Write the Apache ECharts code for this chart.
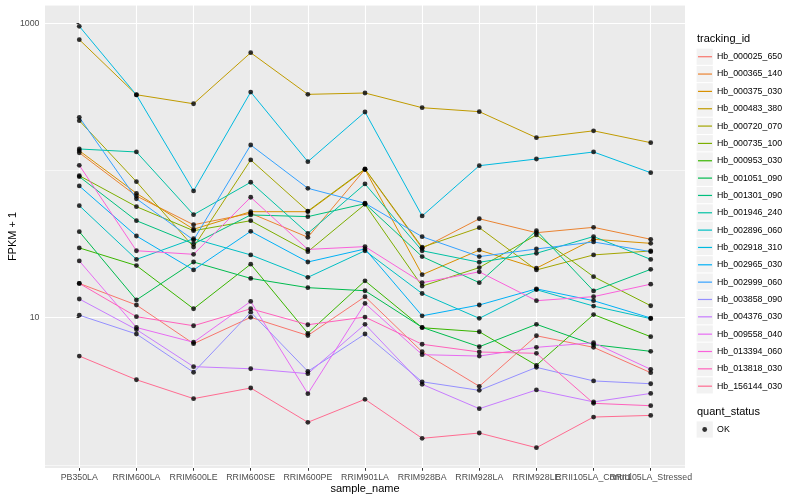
<!DOCTYPE html>
<html>
<head>
<meta charset="utf-8">
<script src="https://cdn.jsdelivr.net/npm/echarts@6/dist/echarts.min.js"></script>
<style>html,body{margin:0;padding:0;background:#fff}#c{width:800px;height:500px}</style>
</head>
<body>
<div id="c"></div>
<script>
// ---- data ----
const categories = ["PB350LA","RRIM600LA","RRIM600LE","RRIM600SE","RRIM600PE","RRIM901LA","RRIM928BA","RRIM928LA","RRIM928LE","RRII105LA_Control","RRII105LA_Stressed"];
const seriesNames = ["Hb_000025_650","Hb_000365_140","Hb_000375_030","Hb_000483_380","Hb_000720_070","Hb_000735_100","Hb_000953_030","Hb_001051_090","Hb_001301_090","Hb_001946_240","Hb_002896_060","Hb_002918_310","Hb_002965_030","Hb_002999_060","Hb_003858_090","Hb_004376_030","Hb_009558_040","Hb_013394_060","Hb_013818_030","Hb_156144_030"];
const seriesColors = ["#F8766D","#EA8331","#D89000","#C09B00","#A3A500","#7CAE00","#39B600","#00BB4E","#00BF7D","#00C1A3","#00BFC4","#00BAE0","#00B0F6","#35A2FF","#9590FF","#C77CFF","#E76BF3","#FA62DB","#FF62BC","#FF6C91"];

const hb_000025_650 = [17.1, 12.2, 6.66, 10.06, 7.57, 13.9, 5.87, 3.42, 7.54, 6.29, 4.23];
const hb_000365_140 = [132, 67.1, 42.8, 51.2, 35.2, 101.9, 29.6, 47.0, 37.8, 41.1, 34.1];
const hb_000375_030 = [136.3, 70.0, 39.9, 52.5, 52.5, 101.5, 19.6, 28.8, 21.7, 34.1, 32.0];
const hb_000483_380 = [774, 327, 284, 631, 329, 336, 267, 251, 167, 186, 154.5];
const hb_000720_070 = [218, 83.9, 30.2, 118, 53, 102.5, 30.1, 40.9, 21.1, 26.7, 28.4];
const hb_000735_100 = [92.2, 56.8, 39.0, 45.6, 28.1, 58.9, 16.4, 21.9, 36.5, 19.0, 12.06];
const hb_000953_030 = [29.8, 22.6, 11.5, 23.1, 7.83, 17.8, 8.55, 8.03, 4.75, 10.5, 7.43];
const hb_001051_090 = [38.4, 13.2, 23.9, 18.5, 16.0, 15.25, 8.6, 6.35, 9.02, 6.56, 5.91];
const hb_001301_090 = [90.8, 45.6, 31.7, 49.9, 48.6, 59.5, 26.0, 17.3, 39.0, 15.2, 21.3];
const hb_001946_240 = [140, 133.6, 50.1, 83.2, 37.4, 81.0, 28.5, 23.8, 27.4, 35.6, 24.9];
const hb_002896_060 = [57.7, 24.9, 34.4, 26.7, 18.8, 28.5, 14.6, 9.9, 15.5, 12.0, 9.85];
const hb_002918_310 = [954, 326, 72.6, 341, 114.8, 249.7, 49.1, 107.8, 119.7, 133.6, 96.6];
const hb_002965_030 = [78.5, 35.9, 21.1, 38.6, 23.9, 29.3, 10.3, 12.2, 15.7, 13.05, 9.95];
const hb_002999_060 = [229.8, 64.3, 33.7, 149, 75.7, 59.9, 35.5, 26.0, 29.3, 32.7, 28.1];
const hb_003858_090 = [10.4, 7.75, 4.26, 10.9, 4.32, 7.75, 3.67, 3.21, 4.60, 3.72, 3.56];
const hb_004376_030 = [13.4, 8.31, 4.65, 4.50, 4.17, 9.02, 3.53, 2.41, 3.23, 2.68, 3.06];
const hb_009558_040 = [24.3, 8.58, 6.81, 12.9, 3.05, 12.5, 5.61, 5.49, 6.29, 6.76, 4.46];
const hb_013394_060 = [108.5, 28.5, 26.96, 65.8, 29.1, 30.4, 17.3, 20.5, 13.05, 13.9, 16.9];
const hb_013818_030 = [17.1, 10.16, 8.82, 11.5, 8.96, 10.1, 6.60, 5.85, 5.73, 2.62, 2.525];
const hb_156144_030 = [5.49, 3.79, 2.82, 3.33, 1.948, 2.79, 1.516, 1.647, 1.309, 2.115, 2.17];

const yTickValues = [10, 1000];
const quantStatus = ["OK"];

// ---- chart ----
const allValues = [hb_000025_650, hb_000365_140, hb_000375_030, hb_000483_380, hb_000720_070, hb_000735_100,
  hb_000953_030, hb_001051_090, hb_001301_090, hb_001946_240, hb_002896_060, hb_002918_310, hb_002965_030,
  hb_002999_060, hb_003858_090, hb_004376_030, hb_009558_040, hb_013394_060, hb_013818_030, hb_156144_030];
const catIdx = categories.map((_, i) => i);
const evenIdx = catIdx.filter(i => i % 2 === 0);
const oddIdx = catIdx.filter(i => i % 2 === 1);
const F = "'Liberation Sans', Arial, Helvetica, sans-serif";

const series = seriesNames.map((name, i) => ({
  name: name, type: 'line', symbol: 'none', showSymbol: false,
  data: allValues[i].map((v, j) => [j, v]),
  lineStyle: { width: 1, color: seriesColors[i] },
  itemStyle: { color: seriesColors[i] },
  emphasis: { disabled: true }, z: 2
}));
series.push({
  name: quantStatus[0], type: 'scatter', symbol: 'circle', symbolSize: 4.8,
  data: allValues.flatMap(arr => arr.map((v, j) => [j, v])),
  itemStyle: { color: '#000' }, emphasis: { disabled: true }, z: 5
});

// legend key backgrounds (ggplot style)
const KEY_Y0 = 56.7, KEY_STEP = 17.3, TEXT_H = 8.96;
const graphics = seriesNames.map((_, i) => ({
  type: 'rect', left: 696.6, top: KEY_Y0 + KEY_STEP * i - 8.1, z: 1,
  shape: { width: 16.2, height: 16.2 }, style: { fill: '#F2F2F2' }
}));
graphics.push({ type: 'rect', left: 696.6, top: 429.5 - 8.1, z: 1, shape: { width: 16.2, height: 16.2 }, style: { fill: '#F2F2F2' } });
graphics.push({ type: 'text', left: 697, top: 33, z: 5, style: { text: 'tracking_id', fontSize: 11, fontFamily: F, fill: '#000' } });
graphics.push({ type: 'text', left: 697, top: 406, z: 5, style: { text: 'quant_status', fontSize: 11, fontFamily: F, fill: '#000' } });

const labelStyle = { margin: 5, color: '#4D4D4D', fontSize: 8.8, fontFamily: F, hideOverlap: false, showMinLabel: true, showMaxLabel: true,
  formatter: v => categories[Math.round(v)] };

const option = {
  animation: false,
  backgroundColor: '#fff',
  grid: { left: 45, right: 115, top: 5, bottom: 32, show: true, backgroundColor: '#EBEBEB', borderWidth: 0,
    containLabel: false, outerBoundsMode: 'none' },
  xAxis: [{
    type: 'value', min: -0.6, max: 10.6, position: 'bottom',
    axisLine: { show: false },
    axisTick: { show: true, length: 2.75, lineStyle: { color: '#333', width: 1 }, customValues: catIdx },
    axisLabel: Object.assign({ customValues: evenIdx }, labelStyle),
    splitLine: { show: true, lineStyle: { color: '#fff', width: 1.1 } },
    name: 'sample_name', nameLocation: 'middle', nameGap: 15, nameMoveOverlap: false,
    nameTextStyle: { color: '#000', fontSize: 11, fontFamily: F }
  }, {
    type: 'value', min: -0.6, max: 10.6, position: 'bottom', offset: 0,
    axisLine: { show: false }, axisTick: { show: false }, splitLine: { show: false },
    axisLabel: Object.assign({ customValues: oddIdx }, labelStyle)
  }],
  yAxis: [{
    type: 'log', logBase: 10, min: 0.953, max: 1331,
    axisLine: { show: false },
    axisTick: { show: true, length: 2.75, lineStyle: { color: '#333', width: 1 }, customValues: yTickValues },
    axisLabel: { customValues: yTickValues, margin: 5.5, color: '#4D4D4D', fontSize: 8.8, fontFamily: F, formatter: v => String(Math.round(v)), showMinLabel: true, showMaxLabel: true },
    splitLine: { show: true, lineStyle: { color: '#fff', width: 1.1 } },
    name: 'FPKM + 1', nameLocation: 'middle', nameGap: 27, nameMoveOverlap: false,
    nameTextStyle: { color: '#000', fontSize: 11, fontFamily: F }
  }, {
    type: 'log', logBase: 10, min: 0.953, max: 1331, position: 'left',
    axisLine: { show: false }, axisTick: { show: false }, axisLabel: { show: false },
    splitLine: { show: true, lineStyle: { color: '#fff', width: 0.55 } }
  }],
  legend: [{
    data: seriesNames, orient: 'vertical', left: 698, top: KEY_Y0 - TEXT_H / 2, padding: 0,
    itemWidth: 14, itemHeight: 14, itemGap: KEY_STEP - TEXT_H,
    icon: 'path://M0,0L14,0L14,1.2L0,1.2Z', selectedMode: false,
    itemStyle: { borderWidth: 0 },
    textStyle: { fontSize: 8.8, color: '#000', fontFamily: F, padding: [0, 0, 0, 0] }
  }, {
    data: quantStatus, orient: 'vertical', left: 702.3, top: 429.5 - TEXT_H / 2, padding: 0,
    itemWidth: 4.8, itemHeight: 4.8, icon: 'circle', selectedMode: false,
    itemStyle: { color: '#000', borderWidth: 0 },
    textStyle: { fontSize: 8.8, color: '#000', fontFamily: F, padding: [0, 0, 0, 5] }
  }],
  graphic: graphics,
  series: series
};

const chart = echarts.init(document.getElementById('c'), null, { renderer: 'canvas', width: 800, height: 500 });
chart.setOption(option);
</script>
</body>
</html>
